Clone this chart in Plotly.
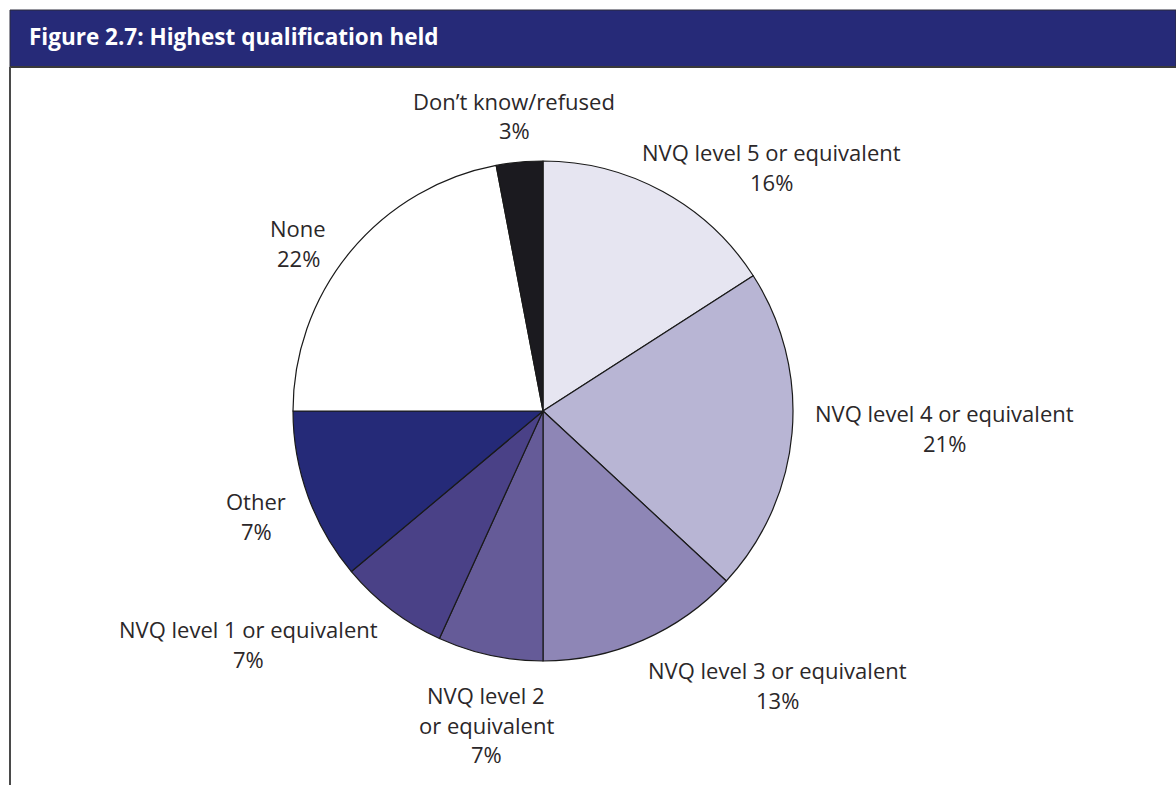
"""Figure 2.7: Highest qualification held - pie chart"""
import plotly.graph_objects as go

W, H = 1176, 785

CATEGORIES = ['NVQ level 5 or equivalent', 'NVQ level 4 or equivalent',
              'NVQ level 3 or equivalent', 'NVQ level 2 or equivalent',
              'NVQ level 1 or equivalent', 'Other', 'None', 'Don’t know/refused']
# slice sizes as drawn in the picture
VALUES = [15.9, 21.0, 13.1, 6.8, 7.1, 11.1, 22.0, 3.0]
# percentages as printed on the labels
PCT_LABELS = ['16%', '21%', '13%', '7%', '7%', '7%', '22%', '3%']
# lines of each printed label
LABEL_LINES = [['NVQ level 5 or equivalent'], ['NVQ level 4 or equivalent'],
               ['NVQ level 3 or equivalent'], ['NVQ level 2', 'or equivalent'],
               ['NVQ level 1 or equivalent'], ['Other'], ['None'],
               ['Don’t know/refused']]

COLORS = ['#e6e5f1', '#b8b5d4', '#8e86b6', '#655b98', '#4a4187',
          '#252a78', '#ffffff', '#1b1a1f']

# label placement (pixel centre x, first line y)
LABEL_POS = [(771, 152), (944, 413), (777, 670), (486, 695),
             (248, 629), (256, 501), (298, 228), (514, 101)]
LINE_GAP = 29.5

cx, cy, r = 543, 411, 250

fig = go.Figure(go.Pie(
    labels=CATEGORIES, values=VALUES, sort=False, direction='clockwise',
    rotation=0, textinfo='none', hoverinfo='label+percent',
    marker=dict(colors=COLORS, line=dict(color='#1a1a1a', width=1.2)),
    domain=dict(x=[(cx - r) / W, (cx + r) / W], y=[1 - (cy + r) / H, 1 - (cy - r) / H]),
    showlegend=False,
))

font = dict(family='Open Sans, Noto Sans, sans-serif', size=22, color='#2b2729')
for lines, pct, (x, y) in zip(LABEL_LINES, PCT_LABELS, LABEL_POS):
    for i, t in enumerate(lines + [pct]):
        fig.add_annotation(x=x / W, y=1 - (y + i * LINE_GAP) / H, xref='paper', yref='paper',
                           text=t, showarrow=False, xanchor='center', yanchor='middle',
                           font=font)

# header band and frame
fig.add_shape(type='rect', xref='paper', yref='paper', x0=10 / W, x1=1, y0=1 - 67 / H, y1=1 - 10 / H,
              fillcolor='#262a78', line=dict(color='#2a2a3a', width=1))
fig.add_shape(type='line', xref='paper', yref='paper', x0=10 / W, x1=1, y0=1 - 67 / H, y1=1 - 67 / H,
              line=dict(color='#3a3a3a', width=2))
fig.add_shape(type='line', xref='paper', yref='paper', x0=10 / W, x1=10 / W, y0=0, y1=1 - 67 / H,
              line=dict(color='#4a4a4a', width=2))
fig.add_annotation(x=27 / W, y=1 - 37 / H, xref='paper', yref='paper', showarrow=False,
                   text='<b>Figure 2.7: Highest qualification held</b>',
                   xanchor='left', yanchor='middle',
                   font=dict(family='Open Sans, Noto Sans, sans-serif', size=22.5, color='white'))

fig.update_layout(width=W, height=H, margin=dict(l=0, r=0, t=0, b=0),
                  paper_bgcolor='white', plot_bgcolor='white')

fig.write_html("out.html", config={'displayModeBar': False},
               post_script="document.body.style.margin='0';document.body.style.overflow='hidden';")
